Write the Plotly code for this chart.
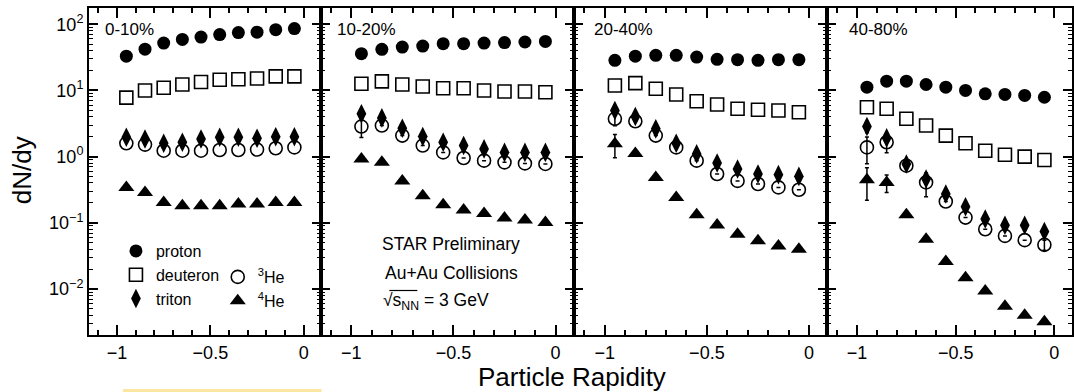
import plotly.graph_objects as go

# ---------------- data ----------------
rapidity = [-0.95, -0.85, -0.75, -0.65, -0.55, -0.45, -0.35, -0.25, -0.15, -0.05]
centralities = ["0-10%", "10-20%", "20-40%", "40-80%"]

proton_0_10 = [33, 42, 52, 59, 64, 70, 75, 76, 83, 86]
deuteron_0_10 = [7.8, 10, 11, 12.3, 13.4, 14.5, 14.8, 15.2, 16.3, 16.3]
triton_0_10 = [1.96, 1.85, 1.59, 1.65, 1.85, 1.96, 1.96, 1.9, 2.0, 2.0]
he3_0_10 = [1.59, 1.52, 1.23, 1.23, 1.23, 1.26, 1.26, 1.28, 1.34, 1.38]
he4_0_10 = [0.343, 0.288, 0.203, 0.181, 0.181, 0.181, 0.192, 0.192, 0.203, 0.203]

proton_10_20 = [36, 41.8, 45.3, 46.9, 51, 51, 52, 53, 54, 55]
deuteron_10_20 = [12.6, 13.7, 12.3, 11.5, 10.8, 10.8, 10.0, 9.66, 9.66, 9.42]
triton_10_20 = [4.44, 3.85, 2.69, 2.01, 1.65, 1.47, 1.31, 1.16, 1.16, 1.16]
he3_10_20 = [2.85, 2.95, 2.08, 1.47, 1.16, 0.955, 0.87, 0.82, 0.79, 0.776]
he4_10_20 = [0.92, 0.82, 0.43, 0.256, 0.187, 0.156, 0.138, 0.118, 0.11, 0.101]

proton_20_40 = [28.5, 33, 33.9, 33.9, 32, 29.5, 29.2, 28.5, 29.2, 29.2]
deuteron_20_40 = [11.9, 12.9, 10.6, 8.7, 6.88, 6.14, 5.28, 5.1, 4.98, 4.69]
triton_20_40 = [4.98, 4.04, 2.63, 1.59, 1.1, 0.80, 0.65, 0.547, 0.534, 0.503]
he3_20_40 = [3.73, 3.43, 2.08, 1.38, 0.87, 0.547, 0.43, 0.386, 0.343, 0.316]
he4_20_40 = [1.56, 1.12, 0.485, 0.242, 0.132, 0.093, 0.0674, 0.0534, 0.0448, 0.040]

proton_40_80 = [11.2, 13.8, 13.8, 12.3, 11.2, 10.0, 8.9, 8.7, 8.4, 7.9]
deuteron_40_80 = [5.58, 5.28, 3.73, 2.95, 2.08, 1.59, 1.23, 1.07, 1.0, 0.89]
triton_40_80 = [2.85, 1.92, 0.774, 0.459, 0.272, 0.175, 0.114, 0.092, 0.092, 0.074]
he3_40_80 = [1.38, 1.65, 0.73, 0.408, 0.21, 0.12, 0.08, 0.0635, 0.0547, 0.0465]
he4_40_80 = [0.449, 0.408, 0.132, 0.0566, 0.026, 0.0148, 0.0093, 0.0055, 0.0040, 0.0032]

# error bars (only where visible; None = no bar)
N = None
no_err = [N] * 10
he3_err_10_20 = [0.9, N, N, N, N, N, N, N, N, N]
he3_err_20_40 = [0.8, N, N, N, N, N, N, N, N, N]
he4_err_20_40 = [0.6, N, N, N, N, N, N, N, N, N]
triton_err_40_80 = [0.55, N, N, N, N, N, N, N, N, N]
he3_err_40_80 = [0.6, 0.5, N, 0.16, N, N, N, N, N, 0.008]
he4_err_40_80 = [0.23, 0.12, N, N, N, N, N, N, N, N]

panels = [
    dict(proton=proton_0_10, deuteron=deuteron_0_10, triton=triton_0_10, he3=he3_0_10, he4=he4_0_10,
         e_tr=no_err, e_he3=no_err, e_he4=no_err),
    dict(proton=proton_10_20, deuteron=deuteron_10_20, triton=triton_10_20, he3=he3_10_20, he4=he4_10_20,
         e_tr=no_err, e_he3=he3_err_10_20, e_he4=no_err),
    dict(proton=proton_20_40, deuteron=deuteron_20_40, triton=triton_20_40, he3=he3_20_40, he4=he4_20_40,
         e_tr=no_err, e_he3=he3_err_20_40, e_he4=he4_err_20_40),
    dict(proton=proton_40_80, deuteron=deuteron_40_80, triton=triton_40_80, he3=he3_40_80, he4=he4_40_80,
         e_tr=triton_err_40_80, e_he3=he3_err_40_80, e_he4=he4_err_40_80),
]

# ---------------- layout geometry ----------------
W, H = 1074, 392
ML, MR, MT, MB = 89, 0, 8, 57
PW = W - ML - MR
PH = H - MT - MB
edges_px = [89, 321, 575, 829, 1074]
domains = [[(edges_px[i] - ML) / PW, (edges_px[i + 1] - ML) / PW] for i in range(4)]
label_px = [103, 336, 593, 849]

FONT = "Liberation Sans, Arial, Helvetica, sans-serif"
BLACK = "black"

fig = go.Figure()

species = [
    ("proton", "proton", "circle", 13, 0),
    ("deuteron", "deuteron", "square-open", 13, 1.6),
    ("he3", "<sup>3</sup>He", "circle-open", 13, 1.6),
    ("triton", "triton", "diamond-tall", 14, 0),
    ("he4", "<sup>4</sup>He", "triangle-up", 14, 0),
]
legend_of = {"proton": "legend", "deuteron": "legend", "triton": "legend",
             "he3": "legend2", "he4": "legend2"}
err_key = {"triton": "e_tr", "he3": "e_he3", "he4": "e_he4"}

for i, p in enumerate(panels):
    ax = "" if i == 0 else str(i + 1)
    for key, name, sym, size, lw in species:
        tr = dict(
            x=rapidity, y=p[key], mode="markers", name=name,
            xaxis="x" + ax, yaxis="y" + ax,
            marker=dict(symbol=sym, size=size, color=BLACK, line=dict(width=lw, color=BLACK)),
            showlegend=(i == 0), legend=legend_of[key], legendgroup=key,
            hoverinfo="x+y",
        )
        if key in err_key and any(v is not None for v in p[err_key[key]]):
            tr["error_y"] = dict(type="data", array=p[err_key[key]], visible=True,
                                 color=BLACK, thickness=1.5, width=2)
        fig.add_trace(go.Scatter(**tr))

minor_y = [m * 10 ** e for e in range(-3, 3) for m in range(2, 10)]

for i in range(4):
    ax = "" if i == 0 else str(i + 1)
    fig.update_layout(**{
        "xaxis" + ax: dict(
            domain=domains[i], range=[-1.15, 0.09], anchor="y" + ax,
            showline=True, linecolor=BLACK, linewidth=2, mirror="allticks",
            ticks="inside", ticklen=10, tickwidth=1.5, tickcolor=BLACK,
            tickmode="array", tickvals=[-1, -0.5, 0], ticktext=["\u22121", "\u22120.5", "0"],
            minor=dict(ticks="inside", ticklen=5, tickwidth=1.5, tickcolor=BLACK,
                       tickmode="array", tickvals=[-1.1, -0.9, -0.8, -0.7, -0.6, -0.4, -0.3, -0.2, -0.1], showgrid=False),
            showgrid=False, zeroline=False,
            tickfont=dict(size=18, color=BLACK, family=FONT),
        ),
        "yaxis" + ax: dict(
            type="log", range=[-2.695, 2.246], anchor="x" + ax,
            showline=True, linecolor=BLACK, linewidth=2, mirror="allticks",
            ticks="inside", ticklen=9, tickwidth=1.5, tickcolor=BLACK,
            tickmode="array", tickvals=[0.01, 0.1, 1, 10, 100],
            ticktext=["10<sup>\u22122</sup>", "10<sup>\u22121</sup>", "10<sup>0</sup>",
                      "10<sup>1</sup>", "10<sup>2</sup>"],
            showticklabels=(i == 0),
            minor=dict(ticks="inside", ticklen=4, tickwidth=1, tickcolor=BLACK,
                       tickmode="array", tickvals=minor_y, showgrid=False),
            showgrid=False, zeroline=False,
            tickfont=dict(size=18, color=BLACK, family=FONT),
        ),
    })

def px_x(px):
    return (px - ML) / PW

def px_y(py):
    return (H - MB - py) / PH

annotations = []
for i, lab in enumerate(centralities):
    annotations.append(dict(text=lab, x=px_x(label_px[i]), y=px_y(30), xref="paper", yref="paper",
                            xanchor="left", yanchor="middle", showarrow=False,
                            font=dict(size=17, color=BLACK, family=FONT)))

info_lines = [("STAR Preliminary", 244), ("Au+Au Collisions", 273)]
for txt, py in info_lines:
    annotations.append(dict(text=txt, x=px_x(452), y=px_y(py), xref="paper", yref="paper",
                            xanchor="center", yanchor="middle", showarrow=False,
                            font=dict(size=17.5, color=BLACK, family=FONT)))
annotations.append(dict(text="\u221As<sub>NN</sub> = 3 GeV", x=px_x(382), y=px_y(301), xref="paper", yref="paper",
                        xanchor="left", yanchor="middle", showarrow=False,
                        font=dict(size=17.5, color=BLACK, family=FONT)))

annotations.append(dict(text="Particle Rapidity", x=px_x(573), y=px_y(377), xref="paper", yref="paper",
                        xanchor="center", yanchor="middle", showarrow=False,
                        font=dict(size=26, color=BLACK, family=FONT)))
annotations.append(dict(text="dN/dy", x=px_x(22), y=px_y(170), xref="paper", yref="paper",
                        xanchor="center", yanchor="middle", showarrow=False, textangle=-90,
                        font=dict(size=26, color=BLACK, family=FONT)))

fig.update_layout(
    width=W, height=H,
    margin=dict(l=ML, r=MR, t=MT, b=MB, pad=0),
    paper_bgcolor="white", plot_bgcolor="white",
    font=dict(family=FONT, color=BLACK),
    annotations=annotations,
    legend=dict(x=px_x(116), y=px_y(234), xanchor="left", yanchor="top",
                bgcolor="rgba(0,0,0,0)", font=dict(size=16, color=BLACK, family=FONT),
                tracegroupgap=10, traceorder="normal"),
    legend2=dict(x=px_x(218), y=px_y(260), xanchor="left", yanchor="top",
                 bgcolor="rgba(0,0,0,0)", font=dict(size=16, color=BLACK, family=FONT),
                 tracegroupgap=10, traceorder="normal"),
    shapes=[
        dict(type="rect", xref="paper", yref="paper",
             x0=px_x(123), x1=px_x(322), y0=px_y(389), y1=px_y(400),
             fillcolor="#FBE7A1", line=dict(width=0), layer="below"),
        # overline of the square-root sign
        dict(type="line", xref="paper", yref="paper",
             x0=px_x(390), x1=px_x(418), y0=px_y(290.5), y1=px_y(290.5),
             line=dict(width=1.2, color=BLACK)),
    ],
)

fig.write_html("out.html")
